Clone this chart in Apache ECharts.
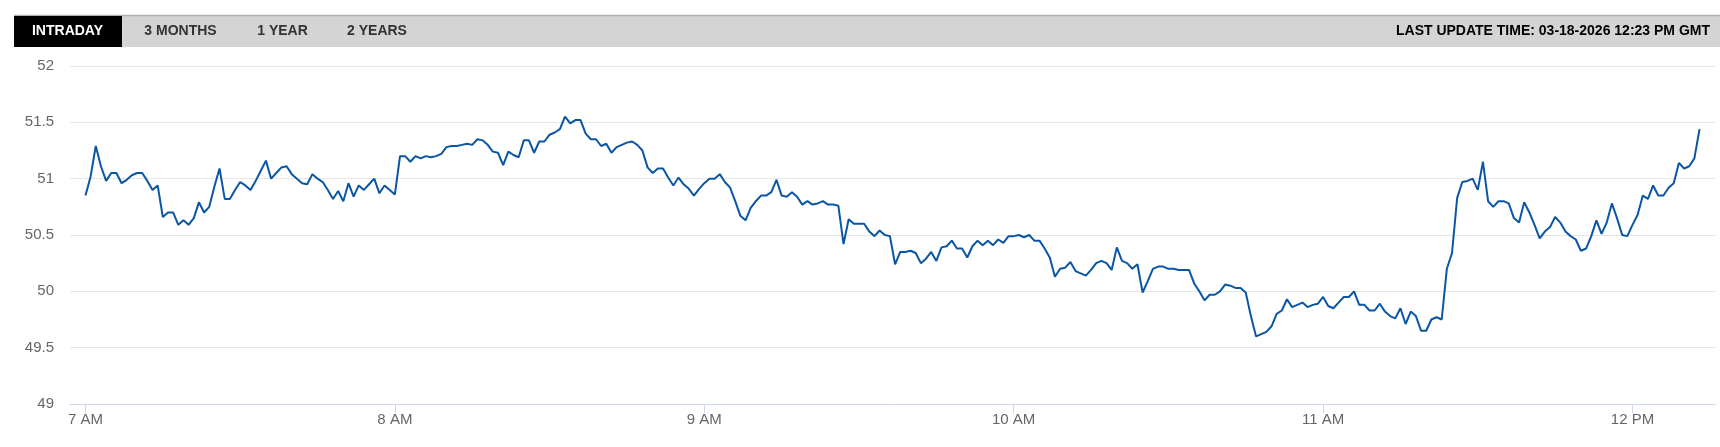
<!DOCTYPE html>
<html>
<head>
<meta charset="utf-8">
<script src="https://cdn.jsdelivr.net/npm/echarts@6/dist/echarts.min.js"></script>
<style>
html,body{margin:0;padding:0;background:#fff;}
#chart{width:1720px;height:447px;}
</style>
</head>
<body>
<div id="chart"></div>
<script>
// One value per minute, starting 7:00 AM
var hour7 = [50.85,51.02,51.29,51.11,50.98,51.05,51.05,50.96,50.99,51.03,51.05,51.05,50.98,50.90,50.94,50.66,50.70,50.70,50.59,50.63,50.59,50.65,50.79,50.70,50.75,50.93,51.09,50.82,50.82,50.90,50.97,50.94,50.90,50.98,51.07,51.16,51.00,51.05,51.10,51.11,51.04,51.00,50.96,50.95,51.04,51.00,50.97,50.90,50.82,50.89,50.80,50.96,50.84,50.94,50.90,50.95,51.00,50.87,50.94,50.90];
var hour8 = [50.86,51.20,51.20,51.15,51.20,51.18,51.20,51.19,51.20,51.22,51.28,51.29,51.29,51.30,51.31,51.30,51.35,51.34,51.30,51.24,51.23,51.12,51.24,51.21,51.19,51.34,51.34,51.23,51.33,51.33,51.39,51.41,51.44,51.55,51.49,51.52,51.52,51.40,51.35,51.35,51.29,51.31,51.23,51.28,51.30,51.32,51.33,51.30,51.25,51.10,51.05,51.09,51.09,51.01,50.94,51.01,50.95,50.91,50.85,50.91];
var hour9 = [50.96,51.00,51.00,51.04,50.97,50.92,50.80,50.67,50.63,50.74,50.80,50.85,50.85,50.88,50.99,50.85,50.84,50.88,50.84,50.77,50.80,50.77,50.78,50.80,50.77,50.77,50.76,50.42,50.64,50.60,50.60,50.60,50.53,50.49,50.54,50.50,50.49,50.24,50.35,50.35,50.36,50.34,50.25,50.29,50.35,50.27,50.39,50.40,50.45,50.38,50.38,50.30,50.40,50.45,50.41,50.45,50.41,50.46,50.43,50.49];
var hour10 = [50.49,50.50,50.48,50.50,50.45,50.45,50.38,50.30,50.13,50.20,50.21,50.26,50.18,50.16,50.14,50.19,50.25,50.27,50.25,50.19,50.39,50.27,50.25,50.20,50.24,49.99,50.09,50.20,50.22,50.22,50.20,50.20,50.19,50.19,50.19,50.07,50.00,49.92,49.97,49.97,50.00,50.06,50.05,50.03,50.03,49.99,49.78,49.60,49.62,49.64,49.69,49.80,49.83,49.93,49.86,49.88,49.90,49.86,49.88,49.89];
var hour11 = [49.95,49.87,49.85,49.90,49.95,49.95,50.00,49.88,49.88,49.83,49.83,49.89,49.82,49.78,49.76,49.85,49.71,49.82,49.78,49.65,49.65,49.75,49.77,49.75,50.20,50.34,50.83,50.97,50.98,51.00,50.90,51.15,50.80,50.75,50.80,50.80,50.78,50.65,50.61,50.79,50.70,50.59,50.47,50.53,50.57,50.66,50.61,50.53,50.49,50.46,50.36,50.38,50.49,50.63,50.51,50.61,50.78,50.65,50.50,50.49];
var hour12 = [50.59,50.68,50.85,50.82,50.94,50.85,50.85,50.92,50.96,51.14,51.09,51.11,51.18,51.44];

var tickMinutes = [0, 60, 120, 180, 240, 300];
var tickLabels = ['7 AM', '8 AM', '9 AM', '10 AM', '11 AM', '12 PM'];
var tabLabels = ['INTRADAY', '3 MONTHS', '1 YEAR', '2 YEARS'];
var updateText = 'LAST UPDATE TIME: 03-18-2026 12:23 PM GMT';

var values = [].concat(hour7, hour8, hour9, hour10, hour11, hour12);
var seriesData = values.map(function (v, i) { return [i, v]; });

var chart = echarts.init(document.getElementById('chart'), null, { renderer: 'canvas' });

var FONT = '"Liberation Sans", Arial, sans-serif';
var tabCenters = [67.5, 180.5, 282.5, 377];

var graphics = [
  { type: 'rect', shape: { x: 14, y: 15, width: 1706, height: 32 }, style: { fill: '#d4d4d4' }, silent: true },
  { type: 'line', shape: { x1: 14, y1: 15.5, x2: 1720, y2: 15.5 }, style: { stroke: '#b0b0b0', lineWidth: 1.5 }, silent: true },
  { type: 'rect', shape: { x: 14, y: 16, width: 108, height: 31 }, style: { fill: '#000000' }, silent: true }
];
tabLabels.forEach(function (t, k) {
  graphics.push({
    type: 'text', x: tabCenters[k], y: 31.5,
    style: { text: t, fill: k === 0 ? '#ffffff' : '#333333', font: 'bold 14px ' + FONT, align: 'center', verticalAlign: 'middle' },
    silent: true
  });
});
graphics.push({
  type: 'text', x: 1710, y: 31.5,
  style: { text: updateText, fill: '#000000', font: 'bold 14px ' + FONT, align: 'right', verticalAlign: 'middle' },
  silent: true
});

chart.setOption({
  animation: false,
  backgroundColor: '#ffffff',
  graphic: graphics,
  grid: { left: 70, right: 5, top: 66, bottom: 43, containLabel: false },
  xAxis: {
    type: 'value',
    min: -3,
    max: 316,
    axisLine: { show: true, lineStyle: { color: '#ccd6eb', width: 1 } },
    axisTick: { show: true, length: 9, lineStyle: { color: '#ccd6eb' }, customValues: tickMinutes },
    axisLabel: {
      color: '#666666', fontSize: 15, fontFamily: FONT, margin: 8,
      customValues: tickMinutes,
      formatter: function (v) { var k = tickMinutes.indexOf(v); return k >= 0 ? tickLabels[k] : ''; }
    },
    splitLine: { show: false }
  },
  yAxis: {
    type: 'value',
    min: 49,
    max: 52,
    interval: 0.5,
    axisLine: { show: false },
    axisTick: { show: false },
    axisLabel: { color: '#666666', fontSize: 15, fontFamily: FONT, margin: 16 },
    splitLine: { show: true, lineStyle: { color: '#e6e6e6', width: 1 } }
  },
  series: [{
    type: 'line',
    data: seriesData,
    showSymbol: false,
    symbol: 'none',
    lineStyle: { color: '#0b56a4', width: 2 },
    itemStyle: { color: '#0b56a4' }
  }]
});
</script>
</body>
</html>
